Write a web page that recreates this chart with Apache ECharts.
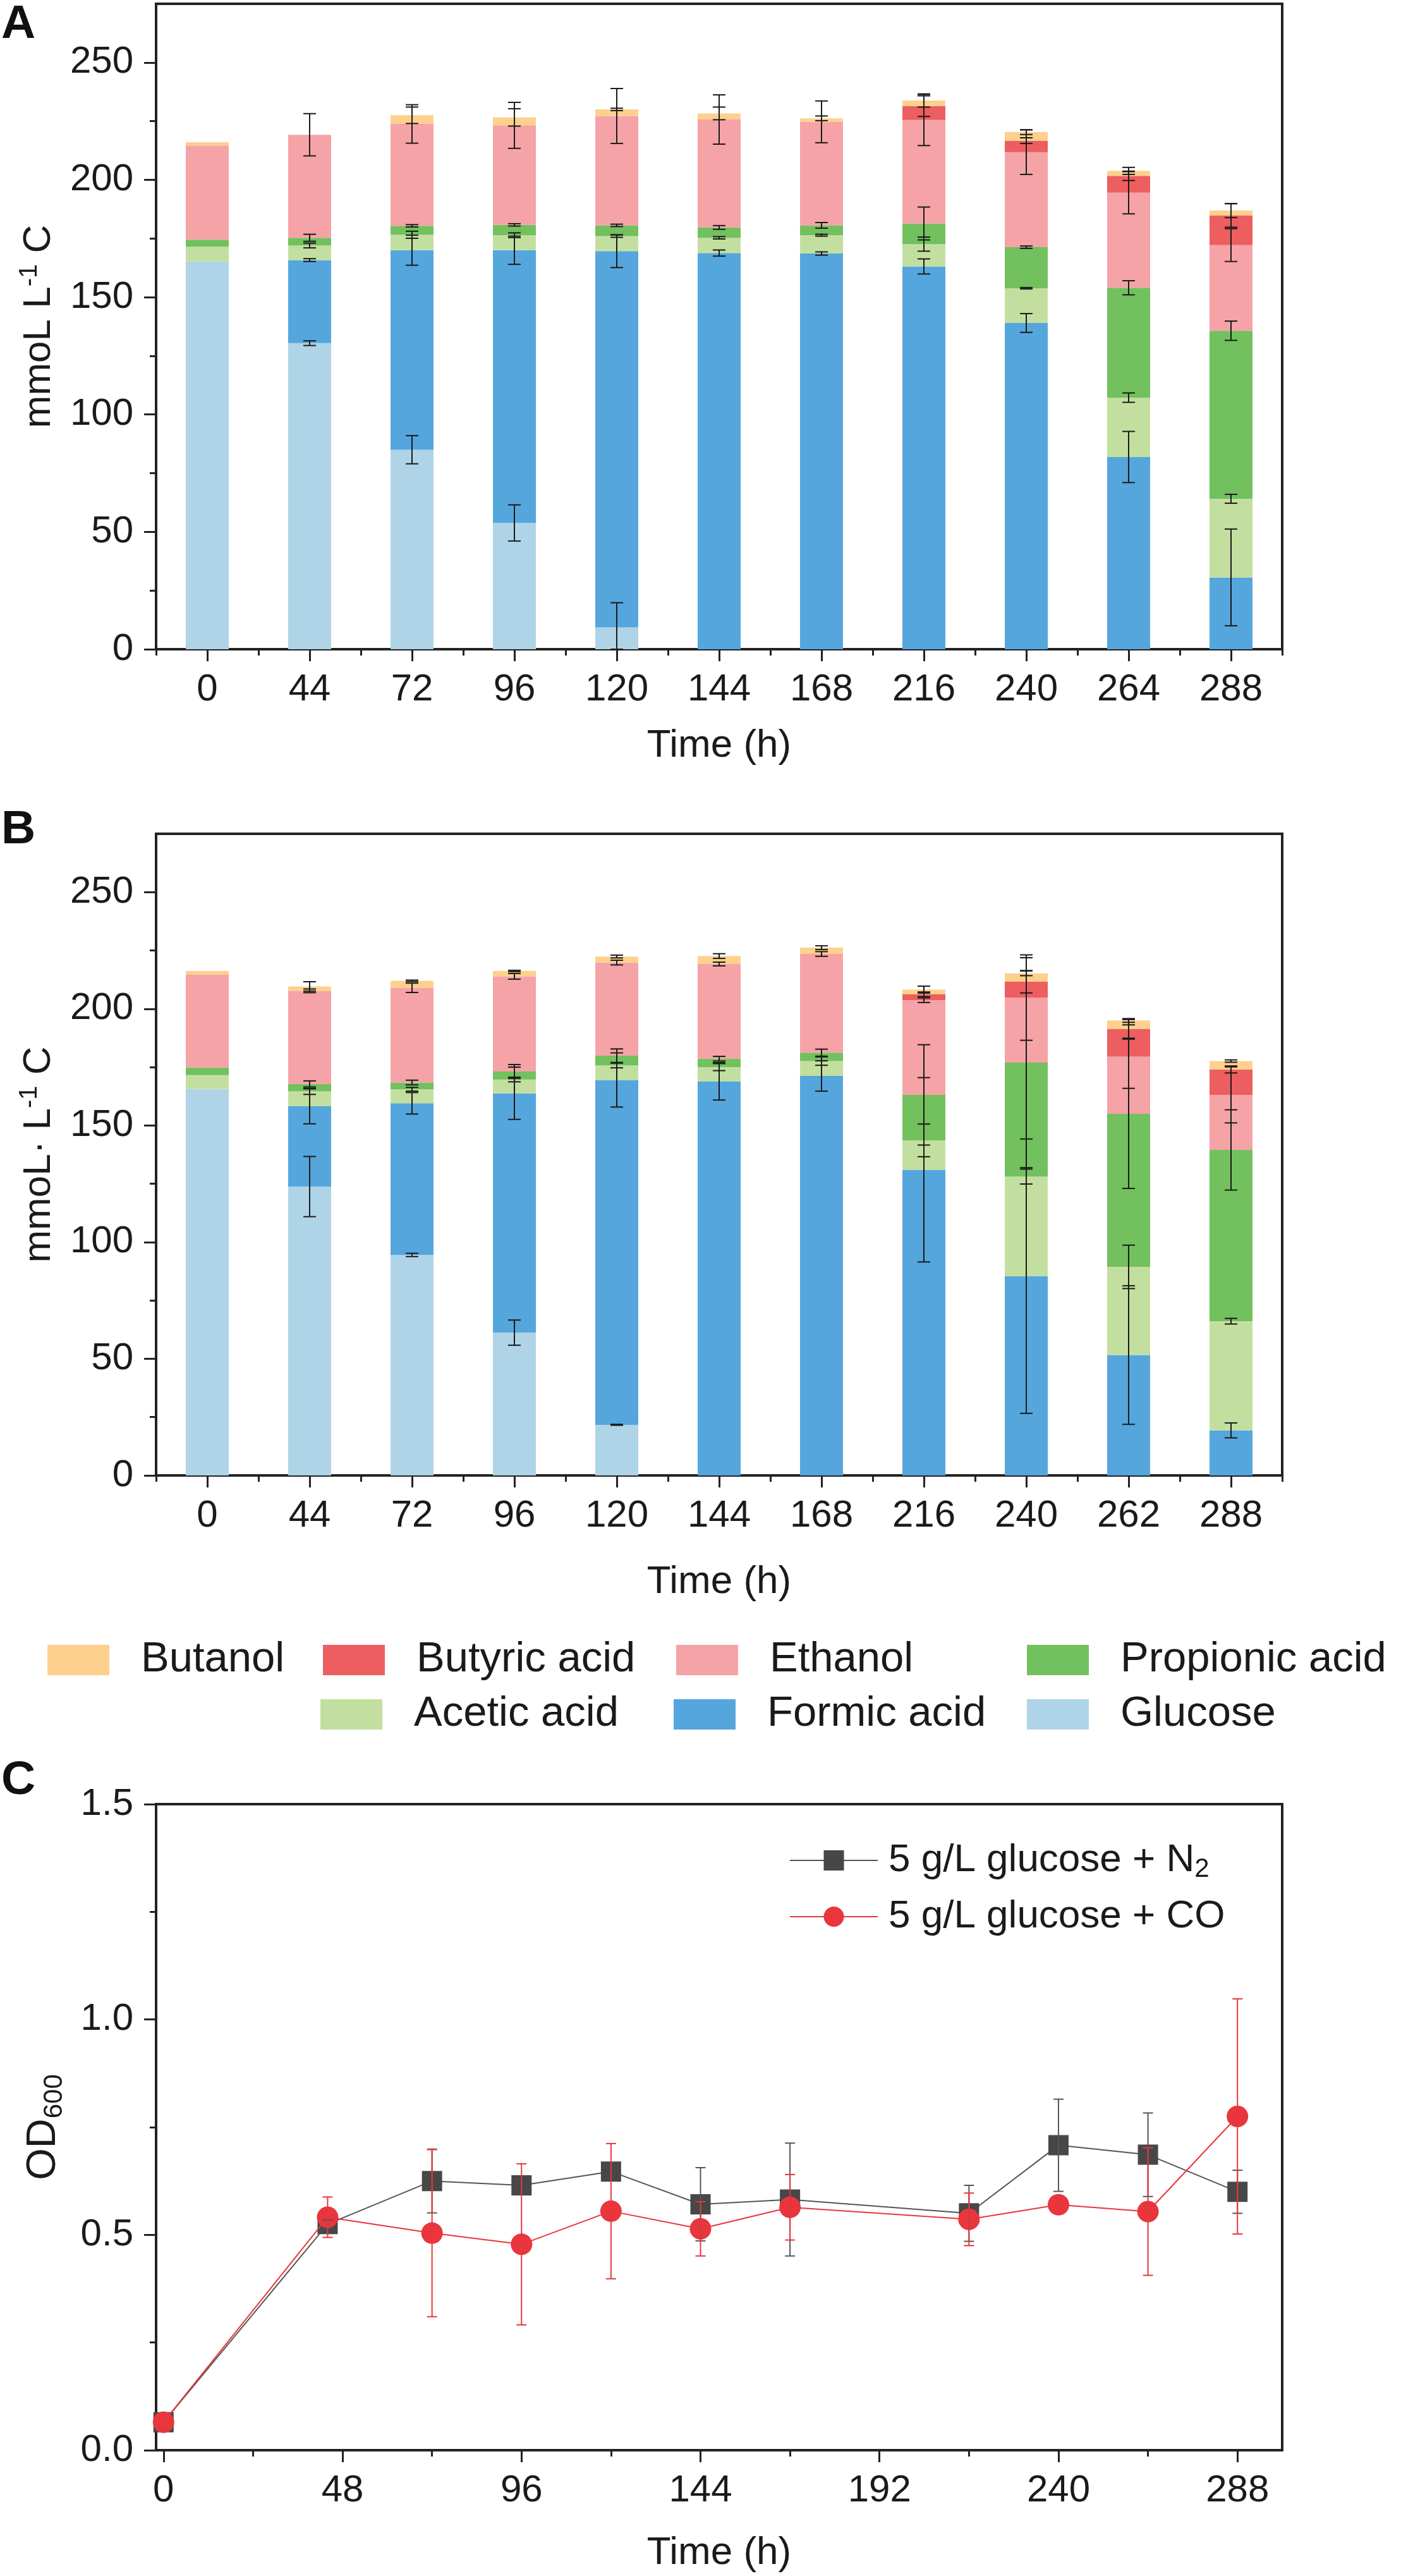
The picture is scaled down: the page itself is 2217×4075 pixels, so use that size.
<!DOCTYPE html>
<html>
<head>
<meta charset="utf-8">
<script src="https://cdn.jsdelivr.net/npm/echarts@6/dist/echarts.min.js"></script>
<style>
html, body { margin: 0; padding: 0; background: #fff; }
#chart { width: 2217px; height: 4075px; }
</style>
</head>
<body>
<div id="chart"></div>
<script>
// ---- panel A: carbon balance, glucose + N2 ----
const timesA = ['0', '44', '72', '96', '120', '144', '168', '216', '240', '264', '288'];
const glucoseA   = [165.2, 130.4, 85.0, 53.8, 9.3, 0, 0, 0, 0, 0, 0];
const formicA    = [0, 35.4, 85.0, 116.2, 160.3, 168.8, 168.6, 163.1, 139.0, 81.9, 30.6];
const aceticA    = [6.3, 6.2, 6.6, 6.4, 6.4, 6.5, 7.8, 9.5, 14.8, 25.3, 33.5];
const propionicA = [3.0, 3.3, 3.8, 4.4, 4.6, 4.4, 4.2, 8.8, 17.5, 46.8, 71.6];
const ethanolA   = [40.1, 43.9, 43.4, 42.4, 46.6, 46.0, 44.1, 44.1, 40.5, 40.5, 36.5];
const butyricA   = [0, 0, 0, 0, 0, 0, 0, 5.9, 4.9, 7.2, 12.6];
const butanolA   = [1.4, 0, 3.7, 3.4, 2.8, 2.6, 1.5, 2.4, 3.6, 2.1, 2.1];

const errGlucoseA   = [0, 1.0, 6.0, 7.7, 10.5, 0, 0, 0, 0, 0, 0];
const errFormicA    = [0, 0.6, 6.4, 6.0, 7.0, 1.3, 0.7, 3.2, 4.0, 10.9, 20.6];
const errAceticA    = [0, 1.0, 1.5, 1.0, 0.5, 0.5, 0.4, 3.0, 0.3, 2.0, 1.9];
const errPropionicA = [0, 1.5, 0.5, 0.5, 0.5, 0.8, 1.2, 7.0, 0.5, 3.0, 4.1];
const errEthanolA   = [0, 9.0, 8.2, 9.8, 11.7, 10.5, 8.9, 10.9, 9.5, 9.0, 7.0];
const errButyricA   = [0, 0, 0, 0, 0, 0, 0, 4.4, 1.2, 2.0, 5.0];
const errButanolA   = [0, 0, 3.5, 3.7, 0.5, 2.7, 1.0, 2.8, 1.0, 1.5, 3.0];

// ---- panel B: carbon balance, glucose + CO ----
const timesB = ['0', '44', '72', '96', '120', '144', '168', '216', '240', '262', '288'];
const glucoseB   = [165.7, 123.8, 94.5, 61.2, 21.7, 0, 0, 0, 0, 0, 0];
const formicB    = [0, 34.4, 65.0, 102.6, 147.8, 168.9, 171.2, 131.0, 85.4, 51.6, 19.3];
const aceticB    = [5.9, 6.4, 6.0, 5.9, 6.2, 6.1, 6.4, 12.6, 42.7, 37.8, 46.8];
const propionicB = [3.2, 3.2, 2.9, 3.4, 4.2, 3.6, 3.6, 19.5, 48.8, 65.6, 73.4];
const ethanolB   = [39.9, 39.9, 40.6, 40.8, 39.9, 40.6, 42.3, 40.6, 27.9, 24.5, 23.6];
const butyricB   = [0, 0, 0, 0, 0, 0, 0, 2.5, 6.8, 11.9, 10.9];
const butanolB   = [1.5, 1.9, 3.0, 2.3, 2.6, 3.4, 2.7, 2.0, 3.6, 3.6, 3.6];

const errGlucoseB   = [0, 12.9, 0.7, 5.4, 0.2, 0, 0, 0, 0, 0, 0];
const errFormicB    = [0, 7.5, 4.6, 11.2, 11.6, 8.0, 6.5, 39.5, 58.8, 29.7, 3.2];
const errAceticB    = [0, 1.3, 0.8, 1.0, 1.0, 1.5, 1.8, 7.0, 3.2, 9.3, 1.2];
const errPropionicB = [0, 1.3, 1.0, 3.0, 2.9, 1.0, 1.5, 21.5, 45.0, 32.0, 17.2];
const errEthanolB   = [0, 0.8, 2.0, 1.2, 1.0, 0.8, 1.0, 1.0, 18.3, 13.6, 12.0];
const errButyricB   = [0, 0, 0, 0, 0, 0, 0, 1.0, 4.8, 4.0, 1.5];
const errButanolB   = [0, 2.0, 0.3, 0.3, 0.6, 1.0, 0.8, 1.5, 1.0, 0.8, 0.5];

// ---- panel C: OD600 ----
const timesC = [0, 44, 72, 96, 120, 144, 168, 216, 240, 264, 288];
const odN2   = [0.065, 0.525, 0.625, 0.615, 0.647, 0.571, 0.582, 0.55, 0.708, 0.686, 0.60];
const errN2  = [0, 0.01, 0.074, 0, 0, 0.085, 0.131, 0.065, 0.107, 0.097, 0.05];
const odCO   = [0.065, 0.541, 0.504, 0.478, 0.555, 0.514, 0.564, 0.536, 0.57, 0.554, 0.775];
const errCO  = [0, 0.047, 0.194, 0.187, 0.157, 0.063, 0.076, 0.061, 0.02, 0.148, 0.273];

const yTicksBar = [0, 50, 100, 150, 200, 250];
const yMinorBar = [25, 75, 125, 175, 225];
const xTicksC = [0, 48, 96, 144, 192, 240, 288];
const xMinorC = [24, 72, 120, 168, 216, 264];
const yTicksC = [0, 0.5, 1.0, 1.5];
const yMinorC = [0.25, 0.75, 1.25];

const speciesNames  = ['Glucose', 'Formic acid', 'Acetic acid', 'Propionic acid', 'Ethanol', 'Butyric acid', 'Butanol'];
const speciesColors = ['#afd4e8', '#55a6dd', '#c3df9f', '#72c05e', '#f5a3a6', '#ec5e5f', '#fdd08d'];

const FONT = '"Liberation Sans", Arial, sans-serif';
const INK = '#1a1a1a';
const AXIS = '#222';

const chart = echarts.init(document.getElementById('chart'), null, { renderer: 'canvas' });

function errorBars(xi, yi, items, color, capW, width) {
  return {
    type: 'custom', xAxisIndex: xi, yAxisIndex: yi, z: 10, silent: true,
    data: items,
    renderItem: function (params, api) {
      const x = api.value(0), c = api.value(1), e = api.value(2);
      const hi = api.coord([x, c + e]);
      const lo = api.coord([x, Math.max(c - e, 0)]);
      const hw = capW / 2;
      const st = { stroke: color, lineWidth: width };
      return {
        type: 'group', children: [
          { type: 'line', shape: { x1: hi[0], y1: hi[1], x2: lo[0], y2: lo[1] }, style: st },
          { type: 'line', shape: { x1: hi[0] - hw, y1: hi[1], x2: hi[0] + hw, y2: hi[1] }, style: st },
          { type: 'line', shape: { x1: lo[0] - hw, y1: lo[1], x2: lo[0] + hw, y2: lo[1] }, style: st }
        ]
      };
    }
  };
}

function stackedPanel(p, values, errors) {
  const out = [];
  const tops = values[0].map(() => 0);
  const errData = [];
  values.forEach((vals, s) => {
    out.push({
      name: speciesNames[s], type: 'bar', stack: 'panel' + p,
      xAxisIndex: p * 2, yAxisIndex: p * 2, barWidth: 68,
      data: vals, itemStyle: { color: speciesColors[s] },
      emphasis: { disabled: true }
    });
    vals.forEach((v, i) => {
      tops[i] += v;
      if (errors[s][i] > 0) errData.push([i, tops[i], errors[s][i]]);
    });
  });
  out.push(errorBars(p * 2, p * 2, errData, INK, 20, 2));
  return out;
}

const tickLabel = { fontSize: 60, color: INK, fontFamily: FONT };
const nameStyle = {
  fontSize: 62, color: INK, fontFamily: FONT, lineHeight: 70,
  rich: {
    sup: { fontSize: 40, lineHeight: 40, verticalAlign: 'top', fontFamily: FONT, color: INK },
    sub: { fontSize: 42, lineHeight: 42, verticalAlign: 'bottom', fontFamily: FONT, color: INK }
  }
};
const axisLine = { show: true, onZero: false, lineStyle: { color: AXIS, width: 4 } };
const noLine = { show: false, onZero: false };
const majorTick = { lineStyle: { color: AXIS, width: 3 } };

function barAxes(p, times, yName, nameGapX) {
  const x = [
    {
      type: 'category', gridIndex: p, data: times, position: 'bottom',
      axisLine: axisLine,
      axisTick: Object.assign({ show: true, alignWithLabel: true, length: 19 }, majorTick),
      axisLabel: Object.assign({ margin: 34 }, tickLabel),
      splitLine: { show: false },
      name: 'Time (h)', nameLocation: 'middle', nameGap: nameGapX, nameTextStyle: nameStyle
    },
    {
      type: 'category', gridIndex: p, data: times, position: 'bottom',
      axisLine: noLine,
      axisTick: Object.assign({ show: true, length: 10 }, majorTick),
      axisLabel: { show: false }, splitLine: { show: false }
    }
  ];
  const y = [
    {
      type: 'value', gridIndex: p, min: 0, max: 275, position: 'left',
      axisLine: axisLine,
      axisTick: Object.assign({ show: true, length: 19, customValues: yTicksBar }, majorTick),
      axisLabel: Object.assign({ margin: 36, customValues: yTicksBar }, tickLabel),
      splitLine: { show: false },
      name: yName, nameLocation: 'middle', nameGap: 150, nameRotate: 90, nameTextStyle: nameStyle
    },
    {
      type: 'value', gridIndex: p, min: 0, max: 275, position: 'left',
      axisLine: noLine,
      axisTick: Object.assign({ show: true, length: 10, customValues: yMinorBar }, majorTick),
      axisLabel: { show: false }, splitLine: { show: false }
    }
  ];
  return { x, y };
}

const axA = barAxes(0, timesA, 'mmoL L{sup|-1} C', 118);
const axB = barAxes(1, timesB, 'mmoL\u00b7 L{sup|-1} C', 134);

const odNameStyle = Object.assign({}, nameStyle, {
  fontSize: 65, lineHeight: 75,
  rich: { sub: { fontSize: 42, lineHeight: 42, verticalAlign: 'bottom', fontFamily: FONT, color: INK } }
});

const xAxesC = [
  {
    type: 'value', gridIndex: 2, min: -2, max: 300, position: 'bottom',
    axisLine: axisLine,
    axisTick: Object.assign({ show: true, length: 19, customValues: xTicksC }, majorTick),
    axisLabel: Object.assign({ margin: 34, customValues: xTicksC }, tickLabel),
    splitLine: { show: false },
    name: 'Time (h)', nameLocation: 'middle', nameGap: 128, nameTextStyle: nameStyle
  },
  {
    type: 'value', gridIndex: 2, min: -2, max: 300, position: 'bottom',
    axisLine: noLine,
    axisTick: Object.assign({ show: true, length: 10, customValues: xMinorC }, majorTick),
    axisLabel: { show: false }, splitLine: { show: false }
  }
];
const yAxesC = [
  {
    type: 'value', gridIndex: 2, min: 0, max: 1.5, position: 'left',
    axisLine: axisLine,
    axisTick: Object.assign({ show: true, length: 19, customValues: yTicksC }, majorTick),
    axisLabel: Object.assign({ margin: 36, customValues: yTicksC, formatter: v => v.toFixed(1) }, tickLabel),
    splitLine: { show: false },
    name: 'OD{sub|600}', nameLocation: 'middle', nameGap: 140, nameRotate: 90, nameTextStyle: odNameStyle
  },
  {
    type: 'value', gridIndex: 2, min: 0, max: 1.5, position: 'left',
    axisLine: noLine,
    axisTick: Object.assign({ show: true, length: 10, customValues: yMinorC }, majorTick),
    axisLabel: { show: false }, splitLine: { show: false }
  }
];

const seriesA = stackedPanel(0, [glucoseA, formicA, aceticA, propionicA, ethanolA, butyricA, butanolA],
  [errGlucoseA, errFormicA, errAceticA, errPropionicA, errEthanolA, errButyricA, errButanolA]);
const seriesB = stackedPanel(1, [glucoseB, formicB, aceticB, propionicB, ethanolB, butyricB, butanolB],
  [errGlucoseB, errFormicB, errAceticB, errPropionicB, errEthanolB, errButyricB, errButanolB]);

const N2_NAME = '5 g/L glucose + N2';
const CO_NAME = '5 g/L glucose + CO';
const grayC = '#474747';
const redC = '#e8363c';

const seriesC = [
  errorBars(4, 4, timesC.map((t, i) => [t, odN2[i], errN2[i]]).filter(d => d[2] > 0), '#555', 16, 2),
  {
    name: N2_NAME, type: 'line', xAxisIndex: 4, yAxisIndex: 4,
    data: timesC.map((t, i) => [t, odN2[i]]),
    symbol: 'rect', symbolSize: 32, color: grayC,
    lineStyle: { color: '#555', width: 2 }, itemStyle: { color: grayC },
    emphasis: { disabled: true }, z: 3
  },
  errorBars(4, 4, timesC.map((t, i) => [t, odCO[i], errCO[i]]).filter(d => d[2] > 0), redC, 16, 2),
  {
    name: CO_NAME, type: 'line', xAxisIndex: 4, yAxisIndex: 4,
    data: timesC.map((t, i) => [t, odCO[i]]),
    symbol: 'circle', symbolSize: 34, color: redC,
    lineStyle: { color: redC, width: 2 }, itemStyle: { color: redC },
    emphasis: { disabled: true }, z: 4
  }
];

// bar legend laid out as a 4 + 3 grid, like the figure
const legendSlots = [
  ['Butanol', 70, 2621], ['Butyric acid', 506, 2621], ['Ethanol', 1065, 2621], ['Propionic acid', 1620, 2621],
  ['Acetic acid', 502, 2707], ['Formic acid', 1061, 2707], ['Glucose', 1620, 2707]
];
const legends = legendSlots.map(([name, left, cy]) => ({
  data: [name], left: left, top: cy - 34, orient: 'horizontal',
  itemWidth: 98, itemHeight: 48, selectedMode: false,
  icon: 'rect',
  textStyle: { fontSize: 67, color: INK, fontFamily: FONT, lineHeight: 68, padding: [0, 0, 0, 45] }
}));
[[N2_NAME, 2938], [CO_NAME, 3027]].forEach(([name, cy]) => {
  legends.push({
    data: [name], left: 1244, top: cy - 35, itemWidth: 139, itemHeight: 40, selectedMode: false,
    formatter: n => n === N2_NAME ? '5 g/L glucose + N{sub|2}' : n,
    textStyle: {
      fontSize: 62, color: INK, fontFamily: FONT, lineHeight: 70, padding: [0, 0, 0, 12],
      rich: { sub: { fontSize: 42, lineHeight: 42, verticalAlign: 'bottom', fontFamily: FONT, color: INK } }
    }
  });
});

const panelLabel = (txt, top) => ({
  type: 'text', left: 2, top: top,
  style: { text: txt, font: 'bold 75px ' + FONT, fill: '#111' }
});

chart.setOption({
  animation: false,
  backgroundColor: '#fff',
  grid: [
    { left: 247, right: 188, top: 6, height: 1021, show: true, borderColor: AXIS, borderWidth: 4, backgroundColor: 'transparent' },
    { left: 247, right: 188, top: 1319, height: 1015, show: true, borderColor: AXIS, borderWidth: 4, backgroundColor: 'transparent' },
    { left: 247, right: 188, top: 2854, height: 1022, show: true, borderColor: AXIS, borderWidth: 4, backgroundColor: 'transparent' }
  ],
  xAxis: axA.x.concat(axB.x, xAxesC),
  yAxis: axA.y.concat(axB.y, yAxesC),
  legend: legends,
  graphic: [panelLabel('A', 2), panelLabel('B', 1276), panelLabel('C', 2780)],
  series: seriesA.concat(seriesB, seriesC)
});
</script>
</body>
</html>
